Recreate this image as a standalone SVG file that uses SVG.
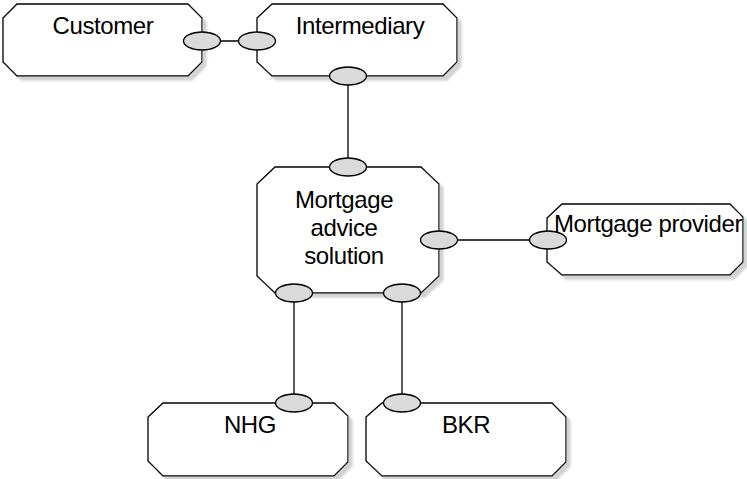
<svg xmlns="http://www.w3.org/2000/svg" width="747" height="479" viewBox="0 0 747 479">
  <style>
    .box { fill: #ffffff; stroke: #000000; stroke-width: 1.3; filter: url(#shadow); }
    .port { fill: #dadada; stroke: #000000; stroke-width: 1.3; }
    .wire { stroke: #000000; stroke-width: 1.3; fill: none; }
    .label { font-family: "Liberation Sans", Arial, sans-serif; font-size: 24px; letter-spacing: -0.4px; fill: #000000; text-anchor: middle; }
  </style>
  <defs>
    <filter id="shadow" x="-5%" y="-5%" width="115%" height="125%">
      <feOffset in="SourceAlpha" dx="4" dy="4" result="off"/>
      <feGaussianBlur in="off" stdDeviation="1" result="blur"/>
      <feFlood flood-color="#d2d2d2"/>
      <feComposite in2="blur" operator="in" result="shade"/>
      <feMerge>
        <feMergeNode in="shade"/>
        <feMergeNode in="SourceGraphic"/>
      </feMerge>
    </filter>
  </defs>

  <!-- connectors between interface ports -->
  <g id="connectors">
    <line class="wire" x1="202" y1="41" x2="257" y2="41"/>
    <line class="wire" x1="348" y1="76" x2="348" y2="167"/>
    <line class="wire" x1="439" y1="240" x2="548" y2="240"/>
    <line class="wire" x1="294" y1="293" x2="294" y2="403"/>
    <line class="wire" x1="402" y1="293" x2="402" y2="403"/>
  </g>

  <g id="customer">
    <polygon class="box" points="17,4 188,4 202,18 202,62 188,76 17,76 3,62 3,18"/>
    <text class="label" x="103" y="34">Customer</text>
    <ellipse class="port" cx="202" cy="41" rx="18.5" ry="9"/>
  </g>

  <g id="intermediary">
    <polygon class="box" points="272,4 443,4 457,18 457,62 443,76 272,76 257,62 257,18"/>
    <text class="label" x="360" y="34">Intermediary</text>
    <ellipse class="port" cx="257" cy="41" rx="18.5" ry="9"/>
    <ellipse class="port" cx="348" cy="76" rx="18.5" ry="9"/>
  </g>

  <g id="mortgage-advice-solution">
    <polygon class="box" points="275,167 421,167 439,184 439,276 421,293 275,293 257,276 257,184"/>
    <text class="label" x="344" y="208">Mortgage</text>
    <text class="label" x="344" y="236">advice</text>
    <text class="label" x="344" y="264">solution</text>
    <ellipse class="port" cx="348" cy="167" rx="18.5" ry="9"/>
    <ellipse class="port" cx="439" cy="240" rx="18.5" ry="9"/>
    <ellipse class="port" cx="294" cy="293" rx="18.5" ry="9"/>
    <ellipse class="port" cx="402" cy="293" rx="18.5" ry="9"/>
  </g>

  <g id="mortgage-provider">
    <polygon class="box" points="562,204 730,204 743,217 743,262 730,275 562,275 547,262 547,218"/>
    <text class="label" x="648" y="232">Mortgage provider</text>
    <ellipse class="port" cx="548" cy="240" rx="18.5" ry="9"/>
  </g>

  <g id="nhg">
    <polygon class="box" points="163,403 334,403 348,416 348,462 334,476 163,476 148,461 148,417"/>
    <text class="label" x="250" y="433">NHG</text>
    <ellipse class="port" cx="294" cy="403" rx="18.5" ry="9"/>
  </g>

  <g id="bkr">
    <polygon class="box" points="382,403 552,403 566,417 566,462 552,476 382,476 366,461 366,417"/>
    <text class="label" x="466" y="433">BKR</text>
    <ellipse class="port" cx="402" cy="403" rx="18.5" ry="9"/>
  </g>
</svg>
